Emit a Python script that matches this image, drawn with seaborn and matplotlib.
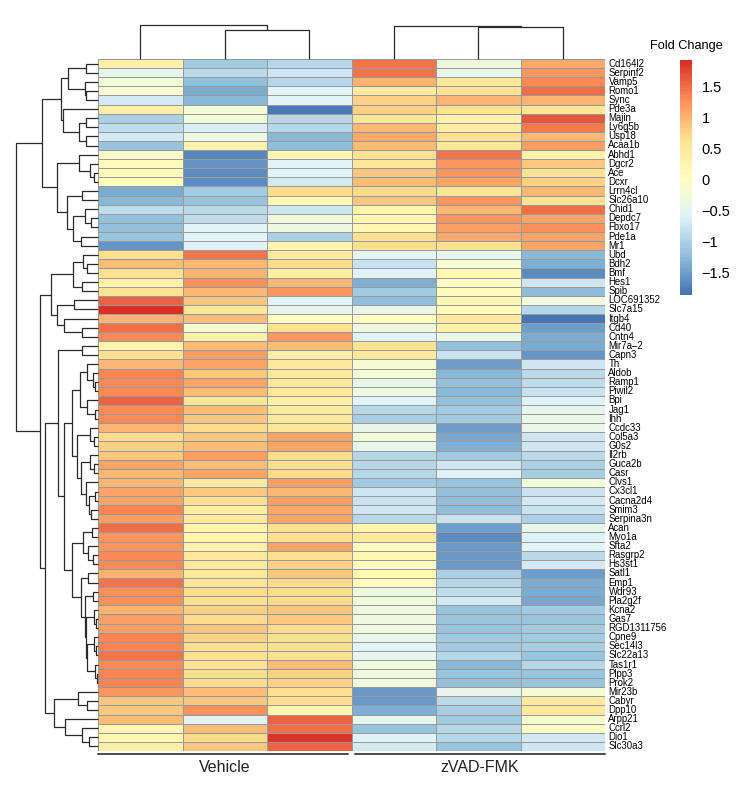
import numpy as np
import pandas as pd
import matplotlib
matplotlib.use("Agg")
import matplotlib.pyplot as plt
import seaborn as sns
from matplotlib.colors import LinearSegmentedColormap

# ---------------- data ----------------
genes = ["Cd164l2", "Serpinf2", "Vamp5", "Romo1", "Sync", "Pde3a", "Majin", "Ly6g5b",
         "Usp18", "Acaa1b", "Abhd1", "Dgcr2", "Ace", "Dcxr", "Lrrn4cl", "Slc26a10",
         "Chid1", "Depdc7", "Fbxo17", "Pde1a", "Mr1", "Ubd", "Bdh2", "Bmf", "Hes1",
         "Spib", "LOC691352", "Slc7a15", "Itgb4", "Cd40", "Cntn4", "Mir7a\u20132",
         "Capn3", "Th", "Aldob", "Ramp1", "Piwil2", "Bpi", "Jag1", "Ihh", "Ccdc33",
         "Col5a3", "G0s2", "Il2rb", "Guca2b", "Casr", "Clvs1", "Cx3cl1", "Cacna2d4",
         "Smim3", "Serpina3n", "Acan", "Myo1a", "Sfta2", "Rasgrp2", "Hs3st1", "Satl1",
         "Emp1", "Wdr93", "Pla2g2f", "Kcna2", "Gas7", "RGD1311756", "Cpne9", "Sec14l3",
         "Slc22a13", "Tas1r1", "Plpp3", "Prok2", "Mir23b", "Cabyr", "Dpp10", "Arpp21",
         "Ccrl2", "Dio1", "Slc30a3"]

vehicle_1 = [0.3, -0.45, -0.25, -0.2, -0.7, 0.35, -1.0, -0.85, -0.7, -1.15,
             -0.1, 0.1, 0.1, 0.1, -1.4, -1.3, -0.85, -1.2, -1.2, -1.15, -1.6,
             0.65, 0.9, 0.65, 0.3, 0.6, 1.55, 1.92, 1.0, 1.5, 1.3,
             0.25, 0.65, 0.95, 1.35, 1.3, 1.3, 1.55, 1.3, 1.3, 1.0, 0.7, 0.75,
             0.85, 1.1, 0.95, 0.95, 1.1, 1.1, 1.35, 1.15,
             1.5, 1.2, 1.2, 1.3, 1.3, 1.0, 1.45, 1.25, 1.25, 1.0, 1.15, 1.15,
             1.35, 1.35, 1.45, 1.3, 1.35, 1.35,
             1.2, 0.85, 0.85, 0.9, 0.15, 0.2, 0.35]
vehicle_2 = [-1.1, -0.9, -1.2, -1.4, -1.3, -0.2, -0.25, -0.65, -0.35, 0.3,
             -1.7, -1.6, -1.65, -1.65, -1.1, -1.15, -0.9, -0.85, -0.55, -0.55, -0.6,
             1.45, 0.95, 1.0, 1.25, 0.95, 0.85, 0.5, 0.9, -0.2, 0.3,
             0.9, 1.15, 1.1, 0.85, 1.1, 0.9, 0.55, 0.9, 0.85, 0.7, 0.85, 0.9,
             1.15, 0.9, 1.1, 0.45, 0.85, 0.65, 0.4, 0.5,
             0.25, 0.25, 0.3, 0.5, 0.5, 0.5, 0.55, 0.7, 0.65, 0.75, 0.7, 0.85,
             0.75, 0.65, 0.65, 0.6, 0.65, 0.7,
             0.9, 0.85, 1.25, -0.55, 0.9, 0.7, 0.85]
vehicle_3 = [-0.95, -0.75, -0.95, -0.55, -0.6, -1.8, -0.95, -0.95, -1.3, -1.25,
             0.2, -0.6, -0.6, -0.7, 0.7, 0.15, -0.75, -0.3, -0.35, -1.0, 0.25,
             0.45, 0.7, 0.35, 0.95, 1.2, -0.55, -0.5, 0.0, 0.6, 1.2,
             0.9, 0.4, 0.5, 0.45, 0.5, 0.5, 0.35, 0.45, 0.5, 0.55, 1.1, 1.1,
             0.7, 0.7, 0.7, 1.15, 0.95, 1.15, 1.05, 1.1,
             0.65, 0.65, 1.1, 0.65, 0.75, 0.85, 0.7, 0.7, 0.7, 0.85, 0.85, 0.7,
             0.6, 0.65, 0.6, 0.9, 0.75, 0.75,
             0.65, 0.65, 0.25, 1.55, 1.5, 1.85, 1.55]
zvad_1 = [1.45, 1.45, 1.0, 0.45, 0.75, 0.75, 0.55, 0.95, 1.05, 0.9,
          0.6, 0.55, 0.85, 0.9, 0.7, 0.85, 0.25, 0.2, 0.2, 0.65, 0.65,
          -0.55, -0.8, -0.6, -1.35, -1.1, -1.25, -0.45, 0.05, -0.35, -0.6,
          0.6, 0.5, -0.2, -0.2, -0.45, -0.35, -0.6, -0.95, -1.05, -0.45, -0.25, -0.45,
          -0.95, -0.95, -0.95, -1.1, -0.75, -0.8, -0.75, -0.95,
          0.25, 0.45, -0.05, 0.2, -0.05, 0.15, 0.1, -0.35, -0.3, -0.3, -0.3, -0.3,
          -0.45, -0.55, -0.5, -0.3, -0.3, -0.3,
          -1.55, -1.55, -1.35, -0.5, -1.15, -0.6, -0.7]
zvad_2 = [-0.3, -0.4, 0.5, 0.6, 1.0, 0.6, 0.3, 0.4, 0.65, 0.5,
          1.45, 1.2, 1.2, 1.1, 0.55, 1.2, 0.95, 1.2, 1.15, 1.05, 0.6,
          -0.5, -0.2, 0.15, -0.05, 0.1, 0.15, 0.1, 0.45, 0.3, -0.4,
          -1.2, -0.8, -1.5, -1.3, -1.2, -1.3, -1.2, -1.1, -1.1, -1.5, -1.45, -1.35,
          -1.1, -0.75, -0.6, -1.15, -1.2, -1.25, -1.25, -0.8,
          -1.5, -1.65, -1.55, -1.55, -1.55, -1.0, -0.95, -0.85, -0.7, -1.15, -1.15, -1.15,
          -1.1, -1.1, -0.95, -1.3, -1.15, -1.2,
          -0.45, -0.9, -1.05, -1.1, -0.95, -0.95, -1.15]
zvad_3 = [1.05, 1.2, 1.3, 1.5, 1.0, 0.55, 1.65, 1.4, 0.95, 1.15,
          0.3, 0.85, 0.6, 0.75, 0.95, 0.6, 1.5, 1.1, 1.25, 1.1, 1.1,
          -1.3, -1.35, -1.65, -0.75, -1.25, -0.3, -0.95, -1.87, -1.5, -1.4,
          -1.4, -1.6, -0.75, -0.9, -0.85, -0.8, -0.6, -0.5, -0.4, -0.4, -0.75, -0.75,
          -0.9, -1.0, -1.05, -0.25, -0.8, -0.7, -0.8, -1.0,
          -0.45, -0.6, -0.55, -0.9, -0.7, -1.5, -1.4, -1.4, -1.45, -1.1, -1.15, -1.1,
          -1.1, -1.05, -1.15, -0.95, -1.15, -1.15,
          -0.2, 0.45, 0.5, -0.15, -0.05, -0.7, -0.75]

samples = ["Vehicle_1", "Vehicle_2", "Vehicle_3", "zVAD_1", "zVAD_2", "zVAD_3"]
groups = ["Vehicle", "zVAD-FMK"]
cbar_ticks = [1.5, 1, 0.5, 0, -0.5, -1, -1.5]
value_range = (-1.87, 1.92)

# hierarchical clustering trees (merge name, child a, child b, height)
row_tree = [
    ("A1", "Cd164l2", "Serpinf2", 12), ("A2", "Romo1", "Sync", 12), ("A3", "Vamp5", "A2", 13),
    ("A4", "A1", "A3", 30), ("B1", "Majin", "Ly6g5b", 12), ("B2", "Usp18", "Acaa1b", 12),
    ("B3", "B1", "B2", 19), ("B4", "Pde3a", "B3", 35), ("AB", "A4", "B4", 37),
    ("C1", "Ace", "Dcxr", 4), ("C2", "Dgcr2", "C1", 8), ("C3", "Abhd1", "C2", 19),
    ("D1", "Lrrn4cl", "Slc26a10", 16), ("D2", "Depdc7", "Fbxo17", 7), ("D3", "Chid1", "D2", 13),
    ("D4", "Pde1a", "Mr1", 17), ("D5", "D3", "D4", 25), ("D6", "D1", "D5", 31),
    ("CD", "C3", "D6", 41), ("TOP", "AB", "CD", 56),
    ("E1", "Bdh2", "Bmf", 11), ("E2", "Ubd", "E1", 15), ("E3", "Hes1", "Spib", 16),
    ("E4", "E2", "E3", 25), ("F1", "LOC691352", "Slc7a15", 24), ("F2", "Cd40", "Cntn4", 16),
    ("F3", "Itgb4", "F2", 34), ("F4", "F1", "F3", 41), ("EF", "E4", "F4", 47),
    ("G1", "Mir7a\u20132", "Capn3", 16),
    ("H1", "Ramp1", "Piwil2", 3), ("H2", "Aldob", "H1", 5), ("H3", "Th", "H2", 11),
    ("H4", "Jag1", "Ihh", 3), ("H5", "Bpi", "H4", 11), ("H6", "H3", "H5", 18),
    ("I1", "Col5a3", "G0s2", 4), ("I2", "Ccdc33", "I1", 8),
    ("J1", "Guca2b", "Casr", 4), ("J2", "Il2rb", "J1", 8),
    ("K1", "Cx3cl1", "Cacna2d4", 3), ("K2", "Smim3", "Serpina3n", 7), ("K3", "K1", "K2", 9),
    ("K4", "Clvs1", "K3", 12), ("JK", "J2", "K4", 17), ("IJK", "I2", "JK", 21),
    ("HI", "H6", "IJK", 26),
    ("L1", "Acan", "Myo1a", 6), ("L2", "Rasgrp2", "Hs3st1", 5), ("L3", "Sfta2", "L2", 10),
    ("L4", "L1", "L3", 15), ("M1", "Satl1", "Emp1", 10), ("M2", "Wdr93", "Pla2g2f", 5),
    ("N3a", "Gas7", "RGD1311756", 2), ("N3", "Kcna2", "N3a", 4),
    ("N4a", "Sec14l3", "Slc22a13", 2), ("N4b", "Cpne9", "N4a", 4),
    ("N4c", "Plpp3", "Prok2", 1.5), ("N4d", "Tas1r1", "N4c", 3), ("N4", "N4b", "N4d", 11),
    ("N2", "N3", "N4", 12.5), ("N1", "M2", "N2", 13), ("M", "M1", "N1", 17.3),
    ("LM", "L4", "M", 26), ("HL", "HI", "LM", 34), ("GHL", "G1", "HL", 40),
    ("P1", "Cabyr", "Dpp10", 11), ("P2", "Mir23b", "P1", 20),
    ("Q1", "Dio1", "Slc30a3", 9), ("Q2", "Ccrl2", "Q1", 16), ("Q3", "Arpp21", "Q2", 33),
    ("PQ", "P2", "Q3", 44), ("GP", "GHL", "PQ", 53), ("EG", "EF", "GP", 58),
    ("ROOT", "TOP", "EG", 82),
]
col_tree = [
    ("v23", "Vehicle_2", "Vehicle_3", 0.862), ("v", "Vehicle_1", "v23", 1.0),
    ("z23", "zVAD_2", "zVAD_3", 0.95), ("z", "zVAD_1", "z23", 0.98),
]

# ---------------- figure ----------------
plt.rcParams["font.family"] = ["Liberation Sans", "DejaVu Sans"]
W, H = 745, 792
fig = plt.figure(figsize=(W / 100, H / 100), dpi=100)


def rect(x0, y0, x1, y1):
    return [x0 / W, 1 - y1 / H, (x1 - x0) / W, (y1 - y0) / H]


ax = fig.add_axes(rect(98, 59, 605, 751))
cax = fig.add_axes(rect(680, 60, 692, 295))
rax = fig.add_axes(rect(16, 59, 98, 751))
tax = fig.add_axes(rect(98, 25, 605, 59))

df = pd.DataFrame({"Vehicle_1": vehicle_1, "Vehicle_2": vehicle_2, "Vehicle_3": vehicle_3,
                   "zVAD_1": zvad_1, "zVAD_2": zvad_2, "zVAD_3": zvad_3}, index=genes)[samples]

cmap = LinearSegmentedColormap.from_list(
    "pheatmap", ["#4575B4", "#91BFDB", "#E0F3F8", "#FFFFBF", "#FEE090", "#FC8D59", "#D73027"], N=100)

sns.heatmap(df, ax=ax, cmap=cmap, vmin=value_range[0], vmax=value_range[1],
            linewidths=0.7, linecolor="#9a9a9a", cbar_ax=cax,
            xticklabels=False, yticklabels=True)
ax.set_xlabel("")
ax.set_ylabel("")
ax.yaxis.tick_right()
ax.tick_params(axis="y", length=0, pad=2.5, labelsize=6.9)
for t in ax.get_yticklabels():
    t.set_rotation(0)
    t.set_va("center")

# colorbar
cbar = ax.collections[0].colorbar
cbar.outline.set_visible(False)
cbar.set_ticks(cbar_ticks)
cbar.set_ticklabels([("%g" % v).replace("-", "\u2212") for v in cbar_ticks])
cax.tick_params(length=0, pad=7, labelsize=10.5)
fig.text(686 / W, 1 - 46 / H, "Fold Change", ha="center", va="center", fontsize=9.2)

line_kw = dict(color="#2a2a2a", lw=0.9, solid_capstyle="butt", clip_on=False)


def draw_tree(axis, merges, leaf_names, orient):
    pos = {n: (i + 0.5, 0.0) for i, n in enumerate(leaf_names)}
    for name, a, b, h in merges:
        ca, ha = pos[a]
        cb, hb = pos[b]
        if orient == "row":
            axis.plot([ha, h, h, hb], [ca, ca, cb, cb], **line_kw)
        else:
            axis.plot([ca, ca, cb, cb], [ha, h, h, hb], **line_kw)
        pos[name] = ((ca + cb) / 2, h)


draw_tree(rax, row_tree, genes, "row")
rax.set_xlim(82, 0)
rax.set_ylim(len(genes), 0)
rax.axis("off")

draw_tree(tax, col_tree, samples, "col")
tax.set_xlim(0, len(samples))
tax.set_ylim(0, 1.0)
tax.axis("off")

# group annotation below heatmap
ybar = len(genes) + 0.35
ax.plot([0.0, 2.96], [ybar, ybar], color="#1a1a1a", lw=1.1, clip_on=False)
ax.plot([3.04, 6.0], [ybar, ybar], color="#1a1a1a", lw=1.1, clip_on=False)
ax.text(1.5, len(genes) + 1.8, groups[0], ha="center", va="center", fontsize=11.5, color="#222222")
ax.text(4.52, len(genes) + 1.8, groups[1], ha="center", va="center", fontsize=11.5, color="#222222")
ax.set_ylim(len(genes), 0)

fig.savefig("out.png", dpi=100)
